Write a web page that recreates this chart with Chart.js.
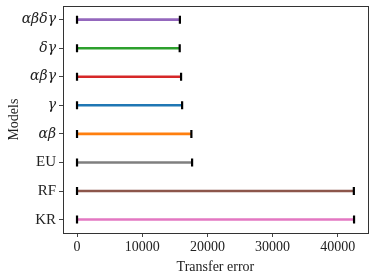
<!DOCTYPE html>
<html>
<head>
<meta charset="utf-8">
<script src="https://cdn.jsdelivr.net/npm/chart.js@4.4.0/dist/chart.umd.min.js"></script>
<style>
  html, body { margin: 0; padding: 0; background: #fff; }
  #wrap { width: 374px; height: 276px; }
</style>
</head>
<body>
<div id="wrap"><canvas id="errChart"></canvas></div>
<script>
// models, top to bottom
const models = ['αβδγ', 'δγ', 'αβγ', 'γ', 'αβ', 'EU', 'RF', 'KR'];
const lowErr = [0, 0, 0, 0, 0, 0, 0, 0];
const highErr = [15780, 15750, 15960, 16120, 17540, 17650, 42460, 42490];
const colors = ['#9467bd', '#2ca02c', '#d62728', '#1f77b4', '#ff7f0e', '#7f7f7f', '#8c564b', '#e377c2'];
const xTicks = [0, 10000, 20000, 30000, 40000];

const serif = "'Liberation Serif', 'DejaVu Serif', serif";
const greekFont = "'DejaVu Serif', serif";
const greek = /[α-ω]/;

const datasets = models.map(function (m, i) {
    return {
        label: m,
        data: [{ x: lowErr[i], y: i }, { x: highErr[i], y: i }],
        showLine: true,
        borderColor: colors[i],
        borderWidth: 2.6,
        pointStyle: 'line',
        rotation: 90,
        pointRadius: 4,
        pointBorderColor: '#000',
        pointBorderWidth: 2.2,
        pointBackgroundColor: '#000',
        pointHoverRadius: 4
    };
});

const frame = {
    id: 'frame',
    afterDraw(chart) {
        const a = chart.chartArea;
        const c = chart.ctx;
        c.save();
        c.strokeStyle = '#333';
        c.lineWidth = 1;
        c.strokeRect(Math.round(a.left) + 0.5, Math.round(a.top) + 0.5,
            Math.round(a.right - a.left), Math.round(a.bottom - a.top));
        c.restore();
    }
};

window.onload = function () {
    const ctx = document.getElementById('errChart').getContext('2d');

    new Chart(ctx, {
        type: 'scatter',
        data: { datasets: datasets },
        options: {
            responsive: true,
            maintainAspectRatio: false,
            animation: false,
            layout: { padding: { top: 5, right: 6, left: 6, bottom: 0 } },
            plugins: {
                legend: { display: false },
                tooltip: { enabled: false }
            },
            scales: {
                x: {
                    type: 'linear',
                    min: -2150,
                    max: 44600,
                    afterBuildTicks: function (scale) {
                        scale.ticks = xTicks.map(v => ({ value: v }));
                    },
                    afterFit: function (scale) {
                        scale.height = 43;
                        scale.paddingRight = 0;
                    },
                    grid: { drawOnChartArea: false, drawTicks: true, tickLength: 4, tickColor: '#444' },
                    border: { display: true, color: '#333' },
                    ticks: {
                        color: '#222',
                        padding: 2,
                        maxRotation: 0,
                        font: { family: serif, size: 14 },
                        callback: v => String(v)
                    },
                    title: {
                        display: true,
                        text: 'Transfer error',
                        color: '#222',
                        padding: { top: 0, bottom: 0 },
                        font: { family: serif, size: 14 }
                    }
                },
                y: {
                    type: 'linear',
                    reverse: true,
                    min: -0.47,
                    max: 7.47,
                    afterBuildTicks: function (scale) {
                        scale.ticks = models.map((m, i) => ({ value: i }));
                    },
                    afterFit: function (scale) {
                        scale.width = 57;
                        scale.paddingTop = 0;
                        scale.paddingBottom = 0;
                    },
                    grid: { drawOnChartArea: false, drawTicks: true, tickLength: 4, tickColor: '#444' },
                    border: { display: true, color: '#333' },
                    ticks: {
                        color: '#222',
                        padding: 3,
                        font: function (c) {
                            const lab = models[c.tick ? c.tick.value : 0] || '';
                            if (greek.test(lab)) {
                                return { family: greekFont, size: 14, style: 'italic' };
                            }
                            return { family: serif, size: 15 };
                        },
                        callback: v => models[v]
                    },
                    title: {
                        display: true,
                        text: 'Models',
                        color: '#222',
                        padding: { top: 0, bottom: 0 },
                        font: { family: serif, size: 14 }
                    }
                }
            }
        },
        plugins: [frame]
    });
};
</script>
</body>
</html>
